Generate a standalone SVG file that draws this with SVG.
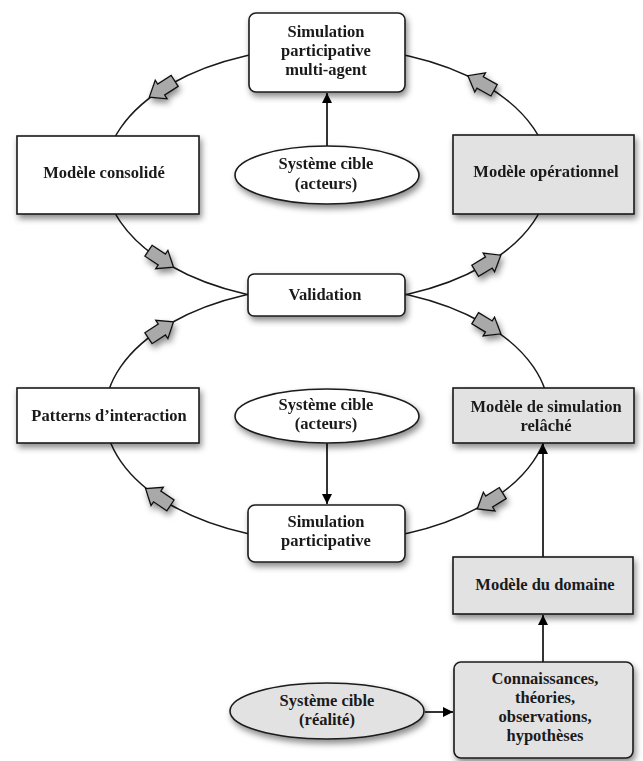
<svg xmlns="http://www.w3.org/2000/svg" xmlns:xlink="http://www.w3.org/1999/xlink" width="643" height="761" viewBox="0 0 643 761">
  <style>
    .box { fill: #ffffff; stroke: #1a1a1a; stroke-width: 1.6; }
    .grey { fill: #e2e2e2; }
    .lbl { font-family: "Liberation Serif", "DejaVu Serif", serif; font-weight: bold; font-size: 16.5px; fill: #1a1a1a; text-anchor: middle; }
    .arc { fill: none; stroke: #1a1a1a; stroke-width: 1.5; }
    .link { fill: none; stroke: #000000; stroke-width: 1.6; marker-end: url(#head); }
    .blk { fill: #a9a9a9; stroke: #111111; stroke-width: 1.3; stroke-linejoin: miter; }
  </style>
  <defs>
    <filter id="sh" x="-20%" y="-20%" width="150%" height="170%">
      <feDropShadow dx="2" dy="4" stdDeviation="3" flood-color="#000000" flood-opacity="0.45"/>
    </filter>
    <marker id="head" viewBox="0 0 10 10" refX="10" refY="5" markerWidth="10" markerHeight="10" markerUnits="userSpaceOnUse" orient="auto">
      <path d="M0,0 L10,5 L0,10 Z" fill="#000000"/>
    </marker>
    <!-- block arrow pointing along +x, centred on the origin -->
    <path id="blkArrow" class="blk" d="M-15,-6.5 H1 V-11 L15,0 L1,11 V6.5 H-15 Z"/>
  </defs>

  <rect width="643" height="761" fill="#ffffff"/>

  <!-- cycles and links -->
  <g id="connectors">
    <ellipse class="arc" cx="327" cy="175" rx="222" ry="128"/>
    <ellipse class="arc" cx="327" cy="414" rx="222" ry="128"/>
    <line class="link" x1="327" y1="146" x2="327" y2="93"/>
    <line class="link" x1="327" y1="443" x2="327" y2="504"/>
    <line class="link" x1="543" y1="557" x2="543" y2="444"/>
    <line class="link" x1="543" y1="662" x2="543" y2="615"/>
    <line class="link" x1="425" y1="712" x2="453" y2="712"/>
  </g>

  <!-- direction markers on the two cycles -->
  <g id="cycle-arrows" filter="url(#sh)">
    <use xlink:href="#blkArrow" transform="translate(162,89) rotate(147.4)"/>
    <use xlink:href="#blkArrow" transform="translate(481,83) rotate(-150.9)"/>
    <use xlink:href="#blkArrow" transform="translate(161,259) rotate(33.4)"/>
    <use xlink:href="#blkArrow" transform="translate(488,263) rotate(-31.2)"/>
    <use xlink:href="#blkArrow" transform="translate(161,330) rotate(-33.4)"/>
    <use xlink:href="#blkArrow" transform="translate(488,326) rotate(31.2)"/>
    <use xlink:href="#blkArrow" transform="translate(490,501) rotate(148.1)"/>
    <use xlink:href="#blkArrow" transform="translate(158,497) rotate(-146)"/>
  </g>

  <g id="sim-multi-agent">
    <rect class="box" x="249" y="13" width="156" height="79" rx="7" filter="url(#sh)"/>
    <text class="lbl" x="326" y="37">Simulation</text>
    <text class="lbl" x="326" y="56">participative</text>
    <text class="lbl" x="326" y="75">multi-agent</text>
  </g>

  <g id="modele-consolide">
    <rect class="box" x="17" y="136" width="182" height="78" filter="url(#sh)"/>
    <text class="lbl" x="104" y="178">Modèle consolidé</text>
  </g>

  <g id="cible-acteurs-1">
    <ellipse class="box" cx="327" cy="175" rx="92" ry="29" filter="url(#sh)"/>
    <text class="lbl" x="326" y="169">Système cible</text>
    <text class="lbl" x="326" y="189">(acteurs)</text>
  </g>

  <g id="modele-operationnel">
    <rect class="box grey" x="453" y="135" width="181" height="79" filter="url(#sh)"/>
    <text class="lbl" x="546" y="177">Modèle opérationnel</text>
  </g>

  <g id="validation">
    <rect class="box" x="248" y="274" width="157" height="42" rx="6" filter="url(#sh)"/>
    <text class="lbl" x="325" y="300">Validation</text>
  </g>

  <g id="patterns">
    <rect class="box" x="17" y="388" width="182" height="55" filter="url(#sh)"/>
    <text class="lbl" x="109" y="421">Patterns d’interaction</text>
  </g>

  <g id="cible-acteurs-2">
    <ellipse class="box" cx="327" cy="416" rx="92" ry="27" filter="url(#sh)"/>
    <text class="lbl" x="326" y="410">Système cible</text>
    <text class="lbl" x="326" y="429">(acteurs)</text>
  </g>

  <g id="modele-relache">
    <rect class="box grey" x="453" y="388" width="181" height="55" filter="url(#sh)"/>
    <text class="lbl" x="546" y="412">Modèle de simulation</text>
    <text class="lbl" x="546" y="431">relâché</text>
  </g>

  <g id="sim-participative">
    <rect class="box" x="248" y="505" width="157" height="57" rx="7" filter="url(#sh)"/>
    <text class="lbl" x="326" y="527">Simulation</text>
    <text class="lbl" x="326" y="546">participative</text>
  </g>

  <g id="modele-domaine">
    <rect class="box grey" x="453" y="557" width="180" height="57" filter="url(#sh)"/>
    <text class="lbl" x="545" y="590">Modèle du domaine</text>
  </g>

  <g id="cible-realite">
    <ellipse class="box grey" cx="327" cy="711" rx="97" ry="28" filter="url(#sh)"/>
    <text class="lbl" x="327" y="706">Système cible</text>
    <text class="lbl" x="327" y="725">(réalité)</text>
  </g>

  <g id="connaissances">
    <rect class="box grey" x="454" y="662" width="179" height="96" rx="7" filter="url(#sh)"/>
    <text class="lbl" x="545" y="684">Connaissances,</text>
    <text class="lbl" x="545" y="703">théories,</text>
    <text class="lbl" x="545" y="722">observations,</text>
    <text class="lbl" x="545" y="741">hypothèses</text>
  </g>
</svg>
